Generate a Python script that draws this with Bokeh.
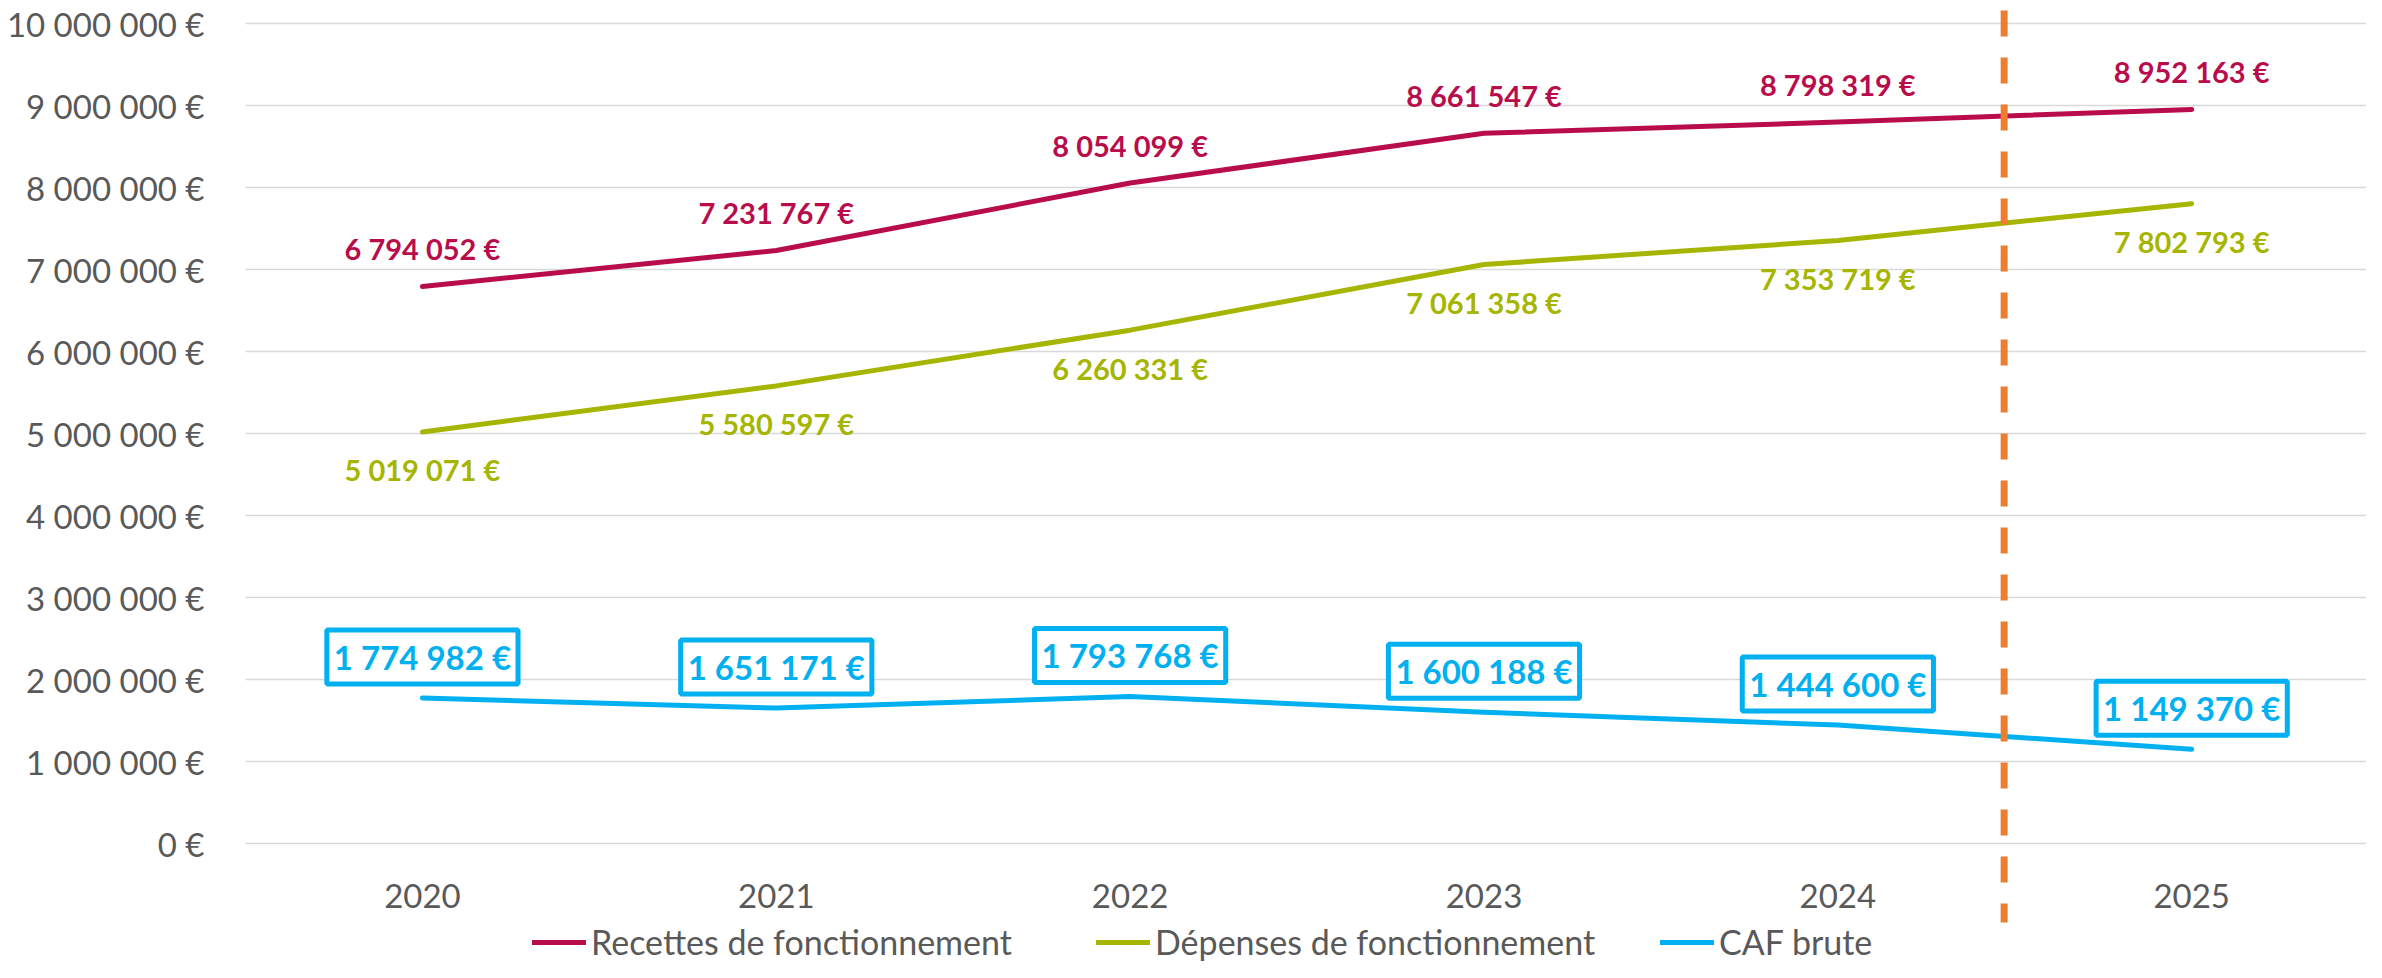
from bokeh.plotting import figure
from bokeh.models import Range1d, FixedTicker, Legend, LegendItem
from bokeh.core.properties import value
from bokeh.embed import file_html
from bokeh.resources import INLINE

# ---- data ----
years = ["2020", "2021", "2022", "2023", "2024", "2025"]
recettes = [6794052, 7231767, 8054099, 8661547, 8798319, 8952163]
depenses = [5019071, 5580597, 6260331, 7061358, 7353719, 7802793]
caf = [1774982, 1651171, 1793768, 1600188, 1444600, 1149370]
series_names = ["Recettes de fonctionnement", "Dépenses de fonctionnement", "CAF brute"]
y_ticks = [0, 1000000, 2000000, 3000000, 4000000, 5000000,
           6000000, 7000000, 8000000, 9000000, 10000000]
y_tick_labels = ["0 €", "1 000 000 €", "2 000 000 €", "3 000 000 €", "4 000 000 €",
                 "5 000 000 €", "6 000 000 €", "7 000 000 €", "8 000 000 €",
                 "9 000 000 €", "10 000 000 €"]
forecast_boundary = 4.97  # between 2024 and 2025 (category units)


def fmt(v):
    return f"{v:,}".replace(",", " ") + " €"


C_REC = "#B80C4B"
C_DEP = "#A5B500"
C_CAF = "#00B0F0"
C_ORANGE = "#ED7D31"
C_TEXT = "#595959"
FONT = "Lato"

xs = [i + 0.5 for i in range(len(years))]

p = figure(width=2366, height=962,
           x_range=Range1d(0, 5.994),
           y_range=Range1d(-1451000, 10183000),
           output_backend="svg", toolbar_location=None,
           x_axis_location=None,
           min_border_left=245, min_border_right=0,
           min_border_top=8, min_border_bottom=0)
p.outline_line_color = None
p.background_fill_color = "white"
p.border_fill_color = "white"

yax = p.yaxis[0]
yax.ticker = FixedTicker(ticks=y_ticks)
yax.major_label_overrides = {t: l for t, l in zip(y_ticks, y_tick_labels)}
yax.axis_line_color = None
yax.major_tick_line_color = None
yax.minor_tick_line_color = None
yax.major_label_standoff = 35
yax.major_label_text_font = FONT
yax.major_label_text_font_size = "33px"
yax.major_label_text_color = C_TEXT

p.xgrid.visible = False
p.ygrid.grid_line_color = "#D9D9D9"
p.ygrid.grid_line_width = 1.3

# ---- lines ----
r_rec = p.line(xs, recettes, line_color=C_REC, line_width=5,
               line_cap="round", line_join="round")
r_dep = p.line(xs, depenses, line_color=C_DEP, line_width=5,
               line_cap="round", line_join="round")
r_caf = p.line(xs, caf, line_color=C_CAF, line_width=5,
               line_cap="round", line_join="round")

# ---- forecast separator ----
p.segment(x0=[forecast_boundary], y0=[10160000], x1=[forecast_boundary], y1=[-963000],
          line_color=C_ORANGE, line_width=7, line_dash="26 21")

# ---- data labels ----
p.text(x=xs, y=recettes, text=[fmt(v) for v in recettes],
       text_font=value(FONT), text_font_style="bold", text_font_size="29px",
       text_color=C_REC, text_align="center", text_baseline="middle", y_offset=-38)
p.text(x=xs, y=depenses, text=[fmt(v) for v in depenses],
       text_font=value(FONT), text_font_style="bold", text_font_size="29px",
       text_color=C_DEP, text_align="center", text_baseline="middle", y_offset=38)
p.text(x=xs, y=caf, text=[fmt(v) for v in caf],
       text_font=value(FONT), text_font_style="bold", text_font_size="33px",
       text_color=C_CAF, text_align="center", text_baseline="middle", y_offset=-41,
       border_line_color=C_CAF, border_line_width=5, padding=7,
       background_fill_color="white")

# ---- category labels ----
p.text(x=xs, y=[0] * len(years), text=years,
       text_font=value(FONT), text_font_size="33px", text_color=C_TEXT,
       text_align="center", text_baseline="middle", y_offset=52)

# ---- legend ----
legend = Legend(items=[LegendItem(label=series_names[0], renderers=[r_rec]),
                       LegendItem(label=series_names[1], renderers=[r_dep]),
                       LegendItem(label=series_names[2], renderers=[r_caf])],
                orientation="horizontal", location=(287, 0),
                glyph_width=54, glyph_height=20, label_standoff=5,
                label_width=450, spacing=55,
                padding=0, margin=0, border_line_color=None,
                background_fill_alpha=0,
                label_text_font=FONT, label_text_font_size="34px",
                label_text_color=C_TEXT)
p.add_layout(legend)

open("out.html", "w").write(file_html(p, INLINE))
